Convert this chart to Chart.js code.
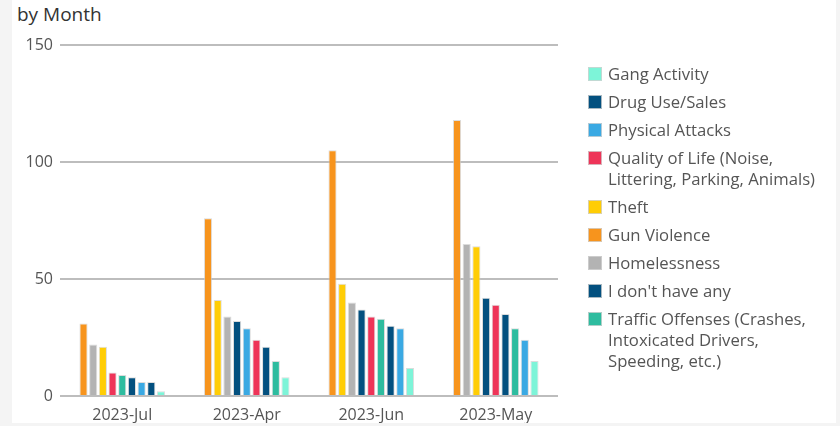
<!DOCTYPE html>
<html>
<head>
<meta charset="utf-8">
<script src="https://cdn.jsdelivr.net/npm/chart.js@4/dist/chart.umd.min.js"></script>
<style>
  html, body { margin: 0; padding: 0; }
  body { width: 840px; height: 426px; background: #f4f4f4; position: relative; overflow: hidden; font-family: "Open Sans", sans-serif; }
  #panel { position: absolute; left: 12px; top: 0; width: 824px; height: 423px; background: #ffffff; }
  #chart { position: absolute; left: 0; top: 0; }
  #title { position: absolute; left: 5px; top: 1px; font-size: 19px; line-height: 26px; color: #333; }
  #legend { position: absolute; left: 576px; top: 63px; width: 240px; }
  .item { display: flex; align-items: flex-start; margin-bottom: 7px; }
  .box { width: 14px; height: 14px; margin-top: 4px; margin-right: 6px; flex: none; box-sizing: border-box; border: 1px solid rgba(210,210,210,0.8); }
  .txt { font-size: 16.7px; line-height: 21px; color: #555; width: 222px; }
</style>
</head>
<body>
<div id="panel">
  <div id="title">by Month</div>
  <canvas id="chart" width="824" height="423"></canvas>
  <div id="legend"></div>
</div>
<script>
const categories = ["2023-Jul", "2023-Apr", "2023-Jun", "2023-May"];
const seriesNames = [
  "Gang Activity",
  "Drug Use/Sales",
  "Physical Attacks",
  "Quality of Life (Noise, Littering, Parking, Animals)",
  "Theft",
  "Gun Violence",
  "Homelessness",
  "I don't have any",
  "Traffic Offenses (Crashes, Intoxicated Drivers, Speeding, etc.)"
];
const gangActivity = [2, 8, 12, 15];
const drugUseSales = [8, 32, 37, 42];
const physicalAttacks = [6, 29, 29, 24];
const qualityOfLife = [10, 24, 34, 39];
const theft = [21, 41, 48, 64];
const gunViolence = [31, 76, 105, 118];
const homelessness = [22, 34, 40, 65];
const dontHaveAny = [6, 21, 30, 35];
const trafficOffenses = [9, 15, 33, 29];
const yTicks = [0, 50, 100, 150];

const seriesValues = [gangActivity, drugUseSales, physicalAttacks, qualityOfLife, theft,
  gunViolence, homelessness, dontHaveAny, trafficOffenses];
const seriesColors = ["#7df4d8", "#03507f", "#3aa9e3", "#ee3458", "#ffcd05",
  "#f7941d", "#b3b3b3", "#03507f", "#2ebc9f"];

// Bars in each month are ordered by value (largest first), so build rank datasets
const nS = seriesNames.length;
const orderPerCat = categories.map((c, ci) => {
  const idx = seriesNames.map((_, si) => si);
  idx.sort((a, b) => (seriesValues[b][ci] - seriesValues[a][ci]) || (a - b));
  return idx;
});
const datasets = [];
for (let r = 0; r < nS; r++) {
  datasets.push({
    label: "rank" + r,
    data: categories.map((c, ci) => seriesValues[orderPerCat[ci][r]][ci]),
    backgroundColor: categories.map((c, ci) => seriesColors[orderPerCat[ci][r]]),
    borderColor: "rgba(205,205,205,0.7)",
    borderWidth: 1,
    categoryPercentage: 0.7,
    barPercentage: 0.84
  });
}

new Chart(document.getElementById("chart"), {
  type: "bar",
  data: { labels: categories, datasets: datasets },
  options: {
    responsive: false,
    animation: false,
    layout: { padding: { left: 0, right: 278, top: 45, bottom: 0 } },
    plugins: { legend: { display: false }, tooltip: { enabled: false }, title: { display: false } },
    scales: {
      x: {
        grid: { display: false, drawTicks: false },
        border: { display: false },
        ticks: { padding: 10, color: "#555", font: { family: "Open Sans", size: 16 } },
        afterFit: (s) => { s.height = 27; }
      },
      y: {
        min: 0, max: 150,
        afterBuildTicks: (s) => { s.ticks = yTicks.map(v => ({ value: v })); },
        grid: { color: "#bdbdbd", lineWidth: 2, drawTicks: false },
        border: { display: false },
        ticks: { padding: 7, color: "#555", font: { family: "Open Sans", size: 16 } },
        afterFit: (s) => { s.width = 48; }
      }
    }
  }
});

const legend = document.getElementById("legend");
seriesNames.forEach((name, i) => {
  const it = document.createElement("div");
  it.className = "item";
  const b = document.createElement("div");
  b.className = "box";
  b.style.background = seriesColors[i];
  const t = document.createElement("div");
  t.className = "txt";
  t.textContent = name;
  it.appendChild(b); it.appendChild(t);
  legend.appendChild(it);
});
</script>
</body>
</html>
